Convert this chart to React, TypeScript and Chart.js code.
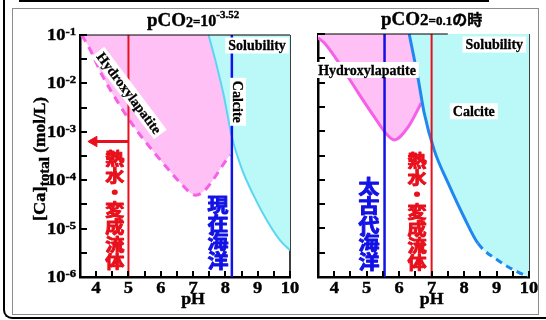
import React, { useEffect, useRef } from "react";
import { Chart, registerables } from "chart.js";

Chart.register(...registerables);

// ---------- axes ----------
const PH_MIN = 3.5;
const PH_MAX = 10;
const CA_MIN = 1e-6;
const CA_MAX = 1e-1;

const xTickValues = [4, 5, 6, 7, 8, 9, 10];
const xTickLabels = ["4", "5", "6", "7", "8", "9", "10"];
const xMinorTickValues = [4.5, 5.5, 6.5, 7.5, 8.5, 9.5];
const yTickExponents = [-1, -2, -3, -4, -5, -6];
const yTickLabels = ["-1", "-2", "-3", "-4", "-5", "-6"];
const yMinorTickExponents = [-1.5, -2.5, -3.5, -4.5, -5.5];

// ---------- left panel: pCO2 = 10^-3.52 ----------
const leftApatitePH = [3.55, 3.75, 4.2, 4.7, 5.2, 5.7, 6.2, 6.6, 7.08, 8.15];
const leftApatiteLogCa = [-1.0, -1.22, -1.85, -2.42, -2.92, -3.35, -3.75, -4.05, -4.31, -3.48];
const leftCalcitePH = [7.48, 7.7, 7.95, 8.2, 8.5, 8.9, 9.3, 9.7, 10];
const leftCalciteLogCa = [-1.0, -1.55, -2.25, -3.1, -3.75, -4.35, -4.85, -5.25, -5.45];
const leftHydrothermalPH = 5.0;
const leftModernOceanPH = 8.2;
const leftArrowPH = [5.0, 3.93];
const leftArrowLogCa = [-3.2, -3.2];

// ---------- right panel: pCO2 = 0.1 ----------
const rightApatitePH = [3.5, 3.69, 4.22, 4.74, 5.23, 5.6, 5.85, 6.28, 6.68];
const rightApatiteLogCa = [-1.08, -1.18, -1.67, -2.21, -2.7, -3.05, -3.18, -2.91, -2.42];
const rightCalcitePH = [6.31, 6.59, 6.77, 7.08, 7.51, 8.0, 8.43, 9.05, 9.66, 10];
const rightCalciteLogCa = [-1.0, -1.94, -2.62, -3.39, -4.07, -4.77, -5.31, -5.66, -5.9, -6.0];
const rightCalciteDashFromPH = 8.43;
const rightArcheanOceanPH = 5.55;
const rightHydrothermalPH = 7.0;

// ---------- styles ----------
const SERIF = '"Liberation Serif", "Times New Roman", serif';
const CJK = '"Noto Sans CJK JP", "Noto Sans CJK SC", sans-serif';
const PINK_FILL = "#ffc0f6";
const CYAN_FILL = "#bbf9f9";
const MAGENTA = "#f660e6";
const RED = "#e8101c";
const BLUE = "#1212e6";

const pts = (xs: number[], ls: number[]) => xs.map((x, i) => ({ x, y: Math.pow(10, ls[i]) }));
const vline = (x: number) => [
  { x, y: CA_MIN },
  { x, y: CA_MAX },
];

type Part = { t: string; size: number; dy?: number; family?: string };

function drawParts(ctx: CanvasRenderingContext2D, parts: Part[], x: number, y: number, align: string, sx = 1, color = "#000") {
  const widths = parts.map((p) => {
    ctx.font = `bold ${p.size}px ${p.family || SERIF}`;
    return ctx.measureText(p.t).width * sx;
  });
  const total = widths.reduce((a, b) => a + b, 0);
  let cx = align === "left" ? x : align === "center" ? x - total / 2 : x - total;
  ctx.save();
  ctx.fillStyle = color;
  ctx.strokeStyle = color;
  ctx.lineWidth = 0.4;
  ctx.textAlign = "left";
  ctx.textBaseline = "alphabetic";
  parts.forEach((p, i) => {
    ctx.save();
    ctx.font = `bold ${p.size}px ${p.family || SERIF}`;
    ctx.translate(cx, y + (p.dy || 0));
    ctx.scale(sx, 1);
    ctx.fillText(p.t, 0, 0);
    ctx.strokeText(p.t, 0, 0);
    ctx.restore();
    cx += widths[i];
  });
  ctx.restore();
}

type BoxLabel = { text: string; ph: number; logCa: number; angle: number; size: number };
type VText = { text: string; ph: number; topLogCa: number; step: number; size: number; color: string; sx: number };

type PanelSpec = {
  showYLabels: boolean;
  title: Part[];
  titleSx: number;
  topLineEndPH: number;
  labels: BoxLabel[];
  vtexts: VText[];
};

function makePlugin(spec: PanelSpec) {
  return {
    id: "panelDecor",
    beforeDatasetsDraw(chart: any) {
      const { ctx, chartArea: a } = chart;
      ctx.save();
      ctx.strokeStyle = "#000";
      ctx.lineWidth = 1.5;
      ctx.beginPath();
      ctx.moveTo(a.right, a.top);
      ctx.lineTo(a.right, a.bottom);
      ctx.stroke();
      ctx.restore();
    },
    afterDatasetsDraw(chart: any) {
      const { ctx, chartArea: a, scales } = chart;
      const xs = scales.x;
      const ys = scales.y;
      // top frame line
      ctx.save();
      ctx.strokeStyle = "#000";
      ctx.lineWidth = 1.2;
      ctx.beginPath();
      ctx.moveTo(a.left, a.top);
      ctx.lineTo(Math.min(a.right, xs.getPixelForValue(spec.topLineEndPH)), a.top);
      ctx.stroke();
      ctx.restore();
      // boxed labels
      spec.labels.forEach((l) => {
        const x = xs.getPixelForValue(l.ph);
        const y = ys.getPixelForValue(Math.pow(10, l.logCa));
        ctx.save();
        ctx.translate(x, y);
        ctx.rotate((l.angle * Math.PI) / 180);
        ctx.font = `bold ${l.size}px ${SERIF}`;
        const w = ctx.measureText(l.text).width;
        ctx.fillStyle = "#fff";
        ctx.fillRect(-w / 2 - 3, -l.size / 2 - 1, w + 6, l.size + 2);
        ctx.fillStyle = "#000";
        ctx.strokeStyle = "#000";
        ctx.lineWidth = 0.3;
        ctx.textAlign = "center";
        ctx.textBaseline = "middle";
        ctx.fillText(l.text, 0, 1);
        ctx.strokeText(l.text, 0, 1);
        ctx.restore();
      });
      // vertical Japanese texts
      spec.vtexts.forEach((v) => {
        const x = xs.getPixelForValue(v.ph);
        const top = ys.getPixelForValue(Math.pow(10, v.topLogCa));
        ctx.save();
        ctx.font = `bold ${v.size}px ${CJK}`;
        ctx.fillStyle = v.color;
        ctx.strokeStyle = v.color;
        ctx.lineWidth = 1;
        ctx.lineJoin = "round";
        ctx.textAlign = "center";
        ctx.textBaseline = "middle";
        Array.from(v.text).forEach((ch, i) => {
          ctx.save();
          ctx.translate(x, top + v.step * i + v.step / 2);
          ctx.scale(v.sx, 1);
          ctx.strokeText(ch, 0, 0);
          ctx.fillText(ch, 0, 0);
          ctx.restore();
        });
        ctx.restore();
      });
    },
    afterDraw(chart: any) {
      const { ctx, chartArea: a, scales } = chart;
      const xs = scales.x;
      const ys = scales.y;
      ctx.save();
      ctx.strokeStyle = "#000";
      ctx.lineWidth = 2;
      ctx.beginPath();
      [...xTickValues, ...xMinorTickValues].forEach((v) => {
        const x = Math.round(xs.getPixelForValue(v));
        ctx.moveTo(x, a.bottom);
        ctx.lineTo(x, a.bottom - 6);
      });
      [...yTickExponents, ...yMinorTickExponents].forEach((e) => {
        const y = Math.round(ys.getPixelForValue(Math.pow(10, e)));
        ctx.moveTo(a.left, y);
        ctx.lineTo(a.left + 7, y);
      });
      ctx.stroke();
      ctx.restore();

      // x tick labels
      xTickValues.forEach((v, i) => {
        drawParts(ctx, [{ t: xTickLabels[i], size: 16 }], xs.getPixelForValue(v), a.bottom + 16, "center", 1.15);
      });
      // y tick labels
      if (spec.showYLabels) {
        yTickExponents.forEach((e, i) => {
          const y = ys.getPixelForValue(Math.pow(10, e));
          drawParts(
            ctx,
            [
              { t: "10", size: 16, dy: 5 },
              { t: yTickLabels[i], size: 11, dy: 0 },
            ],
            a.left - 4,
            y,
            "right",
            1.15
          );
        });
        // y-axis title
        ctx.save();
        ctx.translate(a.left - 40, (a.top + a.bottom) / 2 + 3);
        ctx.rotate(-Math.PI / 2);
        drawParts(
          ctx,
          [
            { t: "[Ca]", size: 17 },
            { t: "total", size: 14, dy: 4 },
            { t: " (mol/L)", size: 16 },
          ],
          0,
          5,
          "center",
          1.08
        );
        ctx.restore();
      }
      // x-axis title
      drawParts(ctx, [{ t: "pH", size: 17 }], xs.getPixelForValue(7), a.bottom + 27, "center", 1.05);
      // panel title
      drawParts(ctx, spec.title, xs.getPixelForValue(7), a.top - 9, "center", spec.titleSx);
    },
  };
}

function baseOptions(padding: any) {
  return {
    animation: false,
    responsive: false,
    maintainAspectRatio: false,
    events: [],
    layout: { padding },
    plugins: { legend: { display: false }, tooltip: { enabled: false } },
    elements: { point: { radius: 0 } },
    scales: {
      x: {
        type: "linear",
        min: PH_MIN,
        max: PH_MAX,
        z: 1,
        ticks: { display: false },
        grid: { display: false, drawTicks: false },
        border: { display: true, width: 2.5, color: "#000" },
      },
      y: {
        type: "logarithmic",
        min: CA_MIN,
        max: CA_MAX,
        z: 1,
        ticks: { display: false },
        grid: { display: false, drawTicks: false },
        border: { display: true, width: 2.5, color: "#000" },
      },
    },
  };
}

function leftConfig(): any {
  return {
    type: "line",
    data: {
      datasets: [
        {
          data: pts(leftApatitePH, leftApatiteLogCa),
          borderColor: MAGENTA,
          borderWidth: 3,
          borderDash: [8, 6],
          backgroundColor: PINK_FILL,
          fill: "end",
          cubicInterpolationMode: "monotone",
          order: 5,
        },
        {
          data: pts(leftCalcitePH, leftCalciteLogCa),
          borderColor: "#5ad6f2",
          borderWidth: 2,
          backgroundColor: CYAN_FILL,
          fill: "end",
          cubicInterpolationMode: "monotone",
          order: 4,
        },
        { data: vline(leftHydrothermalPH), borderColor: RED, borderWidth: 2, fill: false, order: 3 },
        { data: vline(leftModernOceanPH), borderColor: BLUE, borderWidth: 2.5, fill: false, order: 2 },
        {
          data: pts(leftArrowPH, leftArrowLogCa),
          borderColor: RED,
          borderWidth: 3,
          fill: false,
          pointRadius: [0, 6],
          pointStyle: "triangle",
          pointRotation: 270,
          pointBackgroundColor: RED,
          pointBorderColor: RED,
          pointBorderWidth: 1,
          order: 1,
        },
      ],
    },
    options: baseOptions({ left: 80, right: 256, top: 35, bottom: 43 }),
    plugins: [
      makePlugin({
        showYLabels: true,
        title: [
          { t: "pCO", size: 19 },
          { t: "2", size: 14, dy: 1 },
          { t: "=", size: 13 },
          { t: "10", size: 16 },
          { t: "-3.52", size: 11, dy: -8 },
        ],
        titleSx: 1,
        topLineEndPH: PH_MAX,
        labels: [
          { text: "Solubility", ph: 8.98, logCa: -1.217, angle: 0, size: 14 },
          { text: "Hydroxylapatite", ph: 5.02, logCa: -2.2, angle: 53, size: 14 },
          { text: "Calcite", ph: 8.39, logCa: -2.38, angle: 90, size: 14 },
        ],
        vtexts: [
          { text: "熱水・変成流体", ph: 4.58, topLogCa: -3.376, step: 17.1, size: 17, color: RED, sx: 1.12 },
          { text: "現在海洋", ph: 7.77, topLogCa: -4.31, step: 18.75, size: 19, color: BLUE, sx: 1.1 },
        ],
      }),
    ],
  };
}

function rightConfig(): any {
  return {
    type: "line",
    data: {
      datasets: [
        {
          data: pts(rightApatitePH, rightApatiteLogCa),
          borderColor: MAGENTA,
          borderWidth: 3,
          backgroundColor: PINK_FILL,
          fill: "end",
          cubicInterpolationMode: "monotone",
          order: 5,
        },
        {
          data: pts(rightCalcitePH, rightCalciteLogCa),
          borderColor: "#1e88f0",
          borderWidth: 3,
          backgroundColor: CYAN_FILL,
          fill: "end",
          cubicInterpolationMode: "monotone",
          segment: {
            borderDash: (c: any) => (c.p0.parsed.x >= rightCalciteDashFromPH - 1e-6 ? [7, 5] : undefined),
          },
          order: 4,
        },
        { data: vline(rightArcheanOceanPH), borderColor: BLUE, borderWidth: 2.5, fill: false, order: 3 },
        { data: vline(rightHydrothermalPH), borderColor: RED, borderWidth: 2, fill: false, order: 2 },
      ],
    },
    options: baseOptions({ left: 318, right: 17, top: 34, bottom: 43 }),
    plugins: [
      makePlugin({
        showYLabels: false,
        title: [
          { t: "pCO", size: 19 },
          { t: "2", size: 17 },
          { t: "=0.1", size: 13 },
          { t: "の時", size: 15, family: CJK },
        ],
        titleSx: 1,
        topLineEndPH: 7.5,
        labels: [
          { text: "Solubility", ph: 8.93, logCa: -1.217, angle: 0, size: 14 },
          { text: "Hydroxylapatite", ph: 5.01, logCa: -1.74, angle: 0, size: 14 },
          { text: "Calcite", ph: 8.3, logCa: -2.59, angle: 0, size: 14 },
        ],
        vtexts: [
          { text: "太古代海洋", ph: 5.07, topLogCa: -3.95, step: 18.8, size: 19, color: BLUE, sx: 1.1 },
          { text: "熱水・変成流体", ph: 6.55, topLogCa: -3.42, step: 17.1, size: 17, color: RED, sx: 1.12 },
        ],
      }),
    ],
  };
}

export default function App() {
  const leftRef = useRef<HTMLCanvasElement>(null);
  const rightRef = useRef<HTMLCanvasElement>(null);

  useEffect(() => {
    const c1 = new Chart(leftRef.current as HTMLCanvasElement, leftConfig());
    const c2 = new Chart(rightRef.current as HTMLCanvasElement, rightConfig());
    return () => {
      c1.destroy();
      c2.destroy();
    };
  }, []);

  const abs: any = { position: "absolute", left: 0, top: 0 };
  return (
    <div style={{ position: "fixed", left: 0, top: 0, width: 546, height: 320, overflow: "hidden", background: "#fff" }}>
      <div style={{ position: "absolute", left: 12, top: 8, width: 525, height: 305, border: "1px solid #8c8c8c" }} />
      <div style={{ position: "absolute", left: 19, top: 0, width: 470, height: 2, background: "#000" }} />
      <div
        style={{
          position: "absolute",
          left: 3,
          top: -20,
          width: 600,
          height: 337,
          borderLeft: "2px solid #000",
          borderBottom: "2px solid #000",
          borderBottomLeftRadius: 9,
        }}
      />
      <canvas ref={leftRef} width={546} height={320} style={{ ...abs, width: 546, height: 320 }} />
      <canvas ref={rightRef} width={546} height={320} style={{ ...abs, width: 546, height: 320 }} />
    </div>
  );
}
